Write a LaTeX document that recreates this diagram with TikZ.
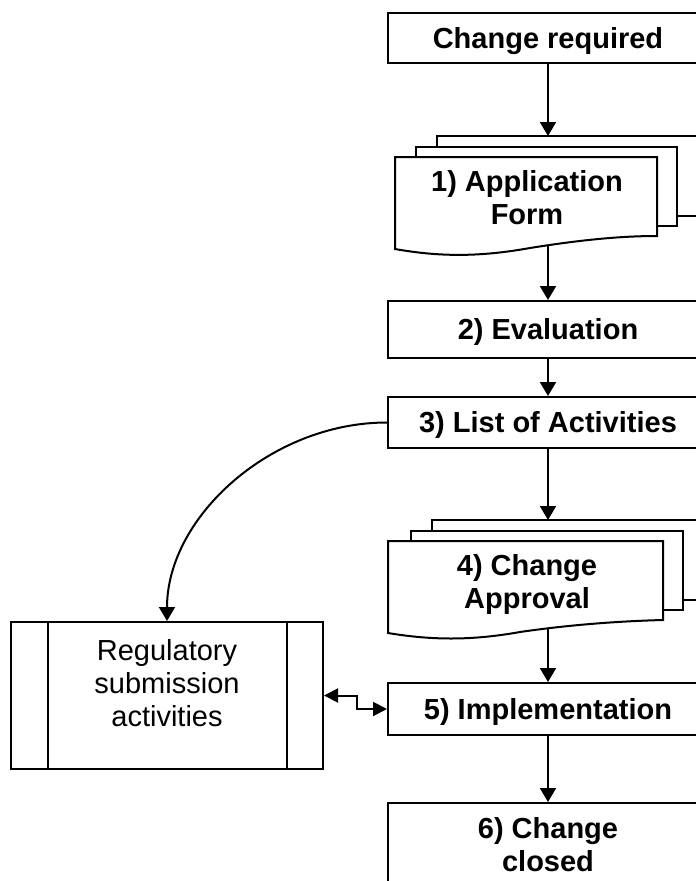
\documentclass[tikz,border=0pt]{standalone}
\usepackage{fontspec}
\setmainfont{Liberation Sans}
\usetikzlibrary{arrows.meta,calc}

\begin{document}
\begin{tikzpicture}[x=1pt,y=-1pt, line width=2pt, line join=miter,
  every node/.style={inner sep=0pt},
  flowbox/.style={draw, fill=white, minimum width=320pt, text height=20pt, text depth=0pt,
    font=\bfseries\fontsize{29}{33}\selectfont},
  plainbox/.style={draw, fill=white, minimum width=320pt},
  page/.style={draw, fill=white},
  labeltext/.style={font=\bfseries\fontsize{29}{33}\selectfont, align=center},
  regtext/.style={font=\fontsize{29}{33}\selectfont, align=center},
  flow/.style={-{Triangle[length=14pt,width=16pt]}},
  bothflow/.style={{Triangle[length=14pt,width=14pt]}-{Triangle[length=14pt,width=14pt]}},
  ]
\useasboundingbox (0,0) rectangle (696,881);
\clip (0,0) rectangle (696,881);

% start box
\node[flowbox, minimum height=50pt] (start) at (548,38) {Change required};

% 1) application form: stacked documents
\draw[page] (437,136) rectangle (720,216);
\draw[page] (416,147) rectangle (677,226);
\draw[page] (395,157) -- (657,157) -- (657,236)
  .. controls (620,236) and (580,240) .. (530,248)
  .. controls (480,257) and (440,257) .. (395,249) -- cycle;
\node[labeltext] (apptext) at (527,198) {1) Application\\Form};
\coordinate (d1top) at (548,136);
\coordinate (d1bot) at (548,246);

% 2) and 3)
\node[flowbox, minimum height=57pt] (eval) at (548,329.5) {2) Evaluation};
\node[flowbox, minimum height=51pt] (list) at (548,422.5) {3) List of Activities};

% 4) change approval: stacked documents
\draw[page] (432,520) rectangle (720,600);
\draw[page] (411,531) rectangle (683,610);
\draw[page] (388,541) -- (663,541) -- (663,620)
  .. controls (625,621) and (575,624) .. (520,632)
  .. controls (470,641) and (430,640) .. (388,633) -- cycle;
\node[labeltext] (apprtext) at (527,584) {4) Change\\Approval};
\coordinate (d4top) at (548,520);
\coordinate (d4bot) at (548,629);

% 5) and 6)
\node[flowbox, minimum height=52pt] (impl) at (548,709) {5) Implementation};
\node[plainbox, minimum height=90pt] (closed) at (548,848) {};
\node[labeltext] (closedtext) at (548,845) {6) Change\\closed};

% predefined process: regulatory submission
\node[draw, fill=white, minimum width=312pt, minimum height=147pt] (reg) at (167,695.5) {};
\draw ($(reg.north west)+(38,0)$) -- ($(reg.south west)+(38,0)$);
\draw ($(reg.north east)+(-37,0)$) -- ($(reg.south east)+(-37,0)$);
\node[regtext] (regtxt) at (167,683) {Regulatory\\submission\\activities};

% connectors
\draw[flow] (start.south) -- (d1top);
\draw[flow] (d1bot) -- (eval.north);
\draw[flow] (eval.south) -- (list.north);
\draw[flow] (list.south) -- (d4top);
\draw[flow] (d4bot) -- (impl.north);
\draw[flow] (impl.south) -- (closed.north);
\draw[flow] (list.west) .. controls +(-116,0) and +(0,-104) .. (reg.north);
\draw[bothflow] (reg.east) -- ++(33,0) |- (impl.west);
\end{tikzpicture}
\end{document}
